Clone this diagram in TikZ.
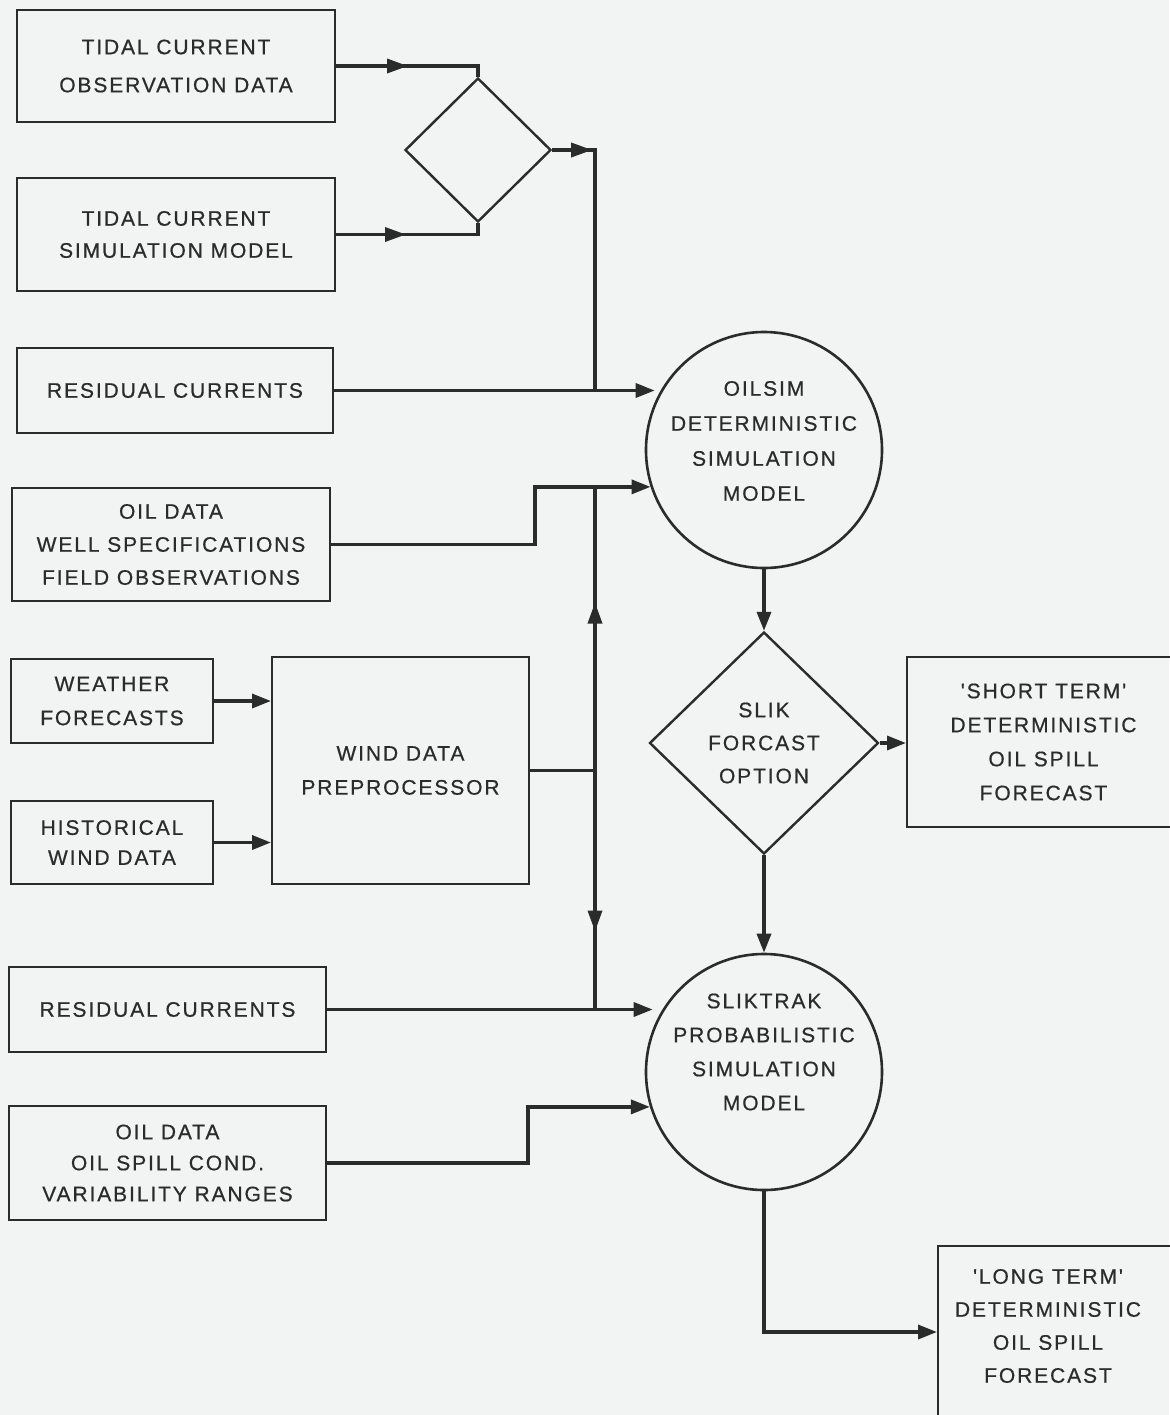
\documentclass[tikz,border=0pt]{standalone}
\usepackage{fontspec}
\setmainfont{Liberation Sans}[LetterSpace=9,Ligatures=TeXOff,FakeBold=0.6]
\usetikzlibrary{shapes.geometric,arrows.meta,decorations.markings}
\definecolor{ink}{HTML}{2B2B2B}
\definecolor{paper}{HTML}{F1F4F3}
\newcommand\fsz[1]{\fontsize{10.5}{#1}\selectfont}
\begin{document}
\begin{tikzpicture}[x=0.5pt,y=-0.5pt,
  every node/.style={font=\fsz{17pt}, text=ink, align=center},
  box/.style={draw=ink, line width=1pt, rectangle, inner sep=0pt},
  conn/.style={draw=ink, line width=1.7pt},
  arr/.style={conn, -{Triangle[length=9.5pt,width=7pt]}},
  midarr/.style={postaction={decorate}, decoration={markings,
      mark=at position #1 with {\arrow[ink]{Triangle[length=10.5pt,width=7pt]}}}}]
\fill[paper] (0,0) rectangle (1169,1415);
\useasboundingbox (0,0) rectangle (1169,1415);

% input boxes
\node[box, minimum width=159pt, minimum height=56pt, font=\fsz{19pt}] (tco) at (176,66) {TIDAL CURRENT\\OBSERVATION DATA};
\node[box, minimum width=159pt, minimum height=56.5pt, font=\fsz{16pt}] (tcs) at (176,234.5) {TIDAL CURRENT\\SIMULATION MODEL};
\node[box, minimum width=158pt, minimum height=42.5pt] (rc1) at (175,390.5) {RESIDUAL CURRENTS};
\node[box, minimum width=159pt, minimum height=56.5pt, font=\fsz{16.5pt}] (oil1) at (171,544.5) {OIL DATA\\WELL SPECIFICATIONS\\FIELD OBSERVATIONS};
\node[box, minimum width=101pt, minimum height=42pt] (wf) at (112,701) {WEATHER\\FORECASTS};
\node[box, minimum width=101pt, minimum height=41.5pt, font=\fsz{15pt}] (hw) at (112,842.5) {HISTORICAL\\WIND DATA};
\node[box, minimum width=128.5pt, minimum height=113.5pt] (wdp) at (400.5,770.5) {WIND DATA\\PREPROCESSOR};
\node[box, minimum width=158.5pt, minimum height=42.5pt] (rc2) at (167.5,1009.5) {RESIDUAL CURRENTS};
\node[box, minimum width=158.5pt, minimum height=57pt, font=\fsz{15.5pt}] (oil2) at (167.5,1163) {OIL DATA\\OIL SPILL COND.\\VARIABILITY RANGES};

% small merge diamond
\node[diamond, draw=ink, line width=1.2pt, minimum width=73pt, minimum height=72pt, inner sep=0pt] (dia1) at (478,150) {};

% OILSIM
\node[circle, draw=ink, line width=1.3pt, minimum size=118pt, inner sep=0pt] (oilsim) at (764,450) {};
\node[font=\fsz{17.5pt}] (oilsimT) at (764,441) {OILSIM\\DETERMINISTIC\\SIMULATION\\MODEL};

% SLIK decision
\node[diamond, draw=ink, line width=1.2pt, minimum width=114.5pt, minimum height=111pt, inner sep=0pt, font=\fsz{16.5pt}] (slik) at (764,743) {SLIK\\FORCAST\\OPTION};

% short term box
\node[box, minimum width=136.5pt, minimum height=85pt] (short) at (1043.5,742) {'SHORT TERM'\\DETERMINISTIC\\OIL SPILL\\FORECAST};

% SLIKTRAK
\node[circle, draw=ink, line width=1.3pt, minimum size=118pt, inner sep=0pt] (sliktrak) at (764,1072) {};
\node[font=\fsz{17pt}] (sliktrakT) at (764,1052) {SLIKTRAK\\PROBABILISTIC\\SIMULATION\\MODEL};

% long term box
\node[box, minimum width=121pt, minimum height=86pt] (long) at (1059,1332) {};
\node[font=\fsz{16.5pt}] (longT) at (1048,1326) {'LONG TERM'\\DETERMINISTIC\\OIL SPILL\\FORECAST};

% junction coordinates
\coordinate (j1) at (595,390);
\coordinate (jw) at (wdp.east -| j1);
\coordinate (j2) at (j1 |- oilsim.198);
\coordinate (j3) at (j1 |- rc2.east);
\coordinate (b1) at (535,516);
\coordinate (b2) at (528,1135);

% connectors
\draw[conn, midarr=36pt] (tco.east) -| (dia1.north);
\draw[conn, midarr=35pt] (tcs.east) -| (dia1.south);
\draw[conn, midarr=20pt] (dia1.east) -| (j1);
\draw[arr, shorten >=3pt] (rc1.east) -- (rc1.east -| oilsim.150);
\draw[arr] (oil1.east) -| (b1) |- (oilsim.198);
\draw[conn] (wdp.east) -- (jw);
\draw[conn, midarr=84pt] (jw) -- (j2);
\draw[conn, midarr=80.5pt] (jw) -- (j3);
\draw[arr, shorten >=4pt] (rc2.east) -- (rc2.east -| sliktrak.150);
\draw[arr] (oil2.east) -| (b2) |- (sliktrak.197);
\draw[arr] (wf.east) -- (wf.east -| wdp.west);
\draw[arr] (hw.east) -- (hw.east -| wdp.west);
\draw[arr] (oilsim.south) -- (slik.north);
\draw[arr] (slik.east) -- (slik.east -| short.west);
\draw[arr] (slik.south) -- (sliktrak.north);
\draw[arr] (sliktrak.south) |- (long.west);
\end{tikzpicture}
\end{document}
